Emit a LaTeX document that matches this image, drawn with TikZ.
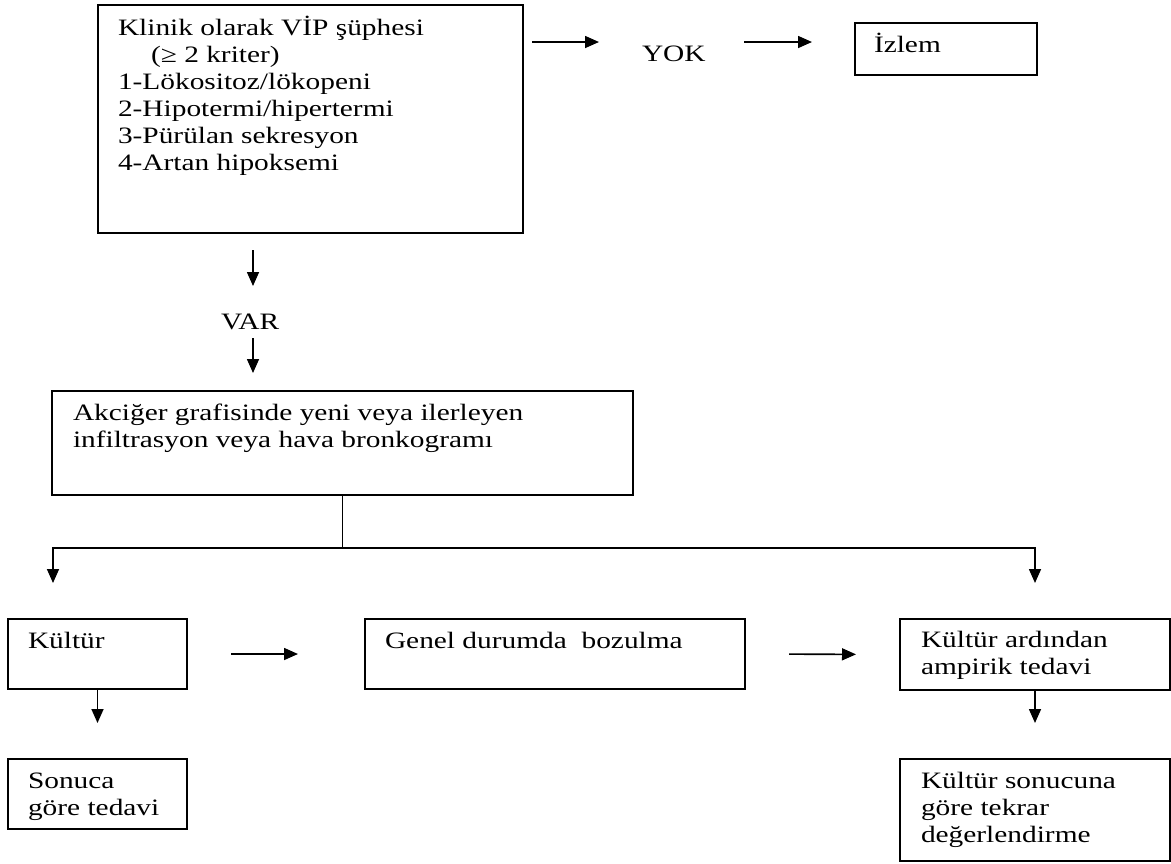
\documentclass[tikz,border=0pt]{standalone}
\usepackage{fontspec}
\setmainfont{Liberation Serif}[FakeStretch=1.25]
\usetikzlibrary{arrows.meta}
\newcommand\txtlines[1]{\vtop{\halign{##\hfil\cr#1\crcr}}}
\begin{document}
\begin{tikzpicture}[x=1pt,y=-1pt,
  box/.style={draw, line width=1.5pt, rectangle, inner sep=0pt, outer sep=0pt, anchor=north west},
  txt/.style={inner sep=0pt, outer sep=0pt, anchor=base west, font=\fontsize{23.5}{27}\selectfont},
  arr/.style={line width=1.6pt, -{Triangle[length=14pt,width=12pt]}},
  ln/.style={line width=1.5pt}]
\useasboundingbox (0,0) rectangle (1171,863);
% boxes
\node[box, minimum width=425pt, minimum height=228pt] (b1) at (98,5) {};
\node[box, minimum width=182pt, minimum height=52pt] (izlem) at (855,23) {};
\node[box, minimum width=581pt, minimum height=104pt] (akc) at (52,391) {};
\node[box, minimum width=179pt, minimum height=70pt] (kultur) at (8,619) {};
\node[box, minimum width=380pt, minimum height=70pt] (genel) at (365,619) {};
\node[box, minimum width=270pt, minimum height=71pt] (kad) at (900,619) {};
\node[box, minimum width=179pt, minimum height=70pt] (sonuca) at (8,759) {};
\node[box, minimum width=270pt, minimum height=102pt] (kson) at (900,759) {};
% texts
\node[txt] (t1) at (118,35) {\txtlines{Klinik olarak VİP şüphesi\cr
\hskip33pt(≥ 2 kriter)\cr
1-Lökositoz/lökopeni\cr
2-Hipotermi/hipertermi\cr
3-Pürülan sekresyon\cr
4-Artan hipoksemi}};
\node[txt] (yok) at (642,61) {YOK};
\node[txt] (tizlem) at (874,52) {İzlem};
\node[txt] (var) at (221,329) {VAR};
\node[txt] (takc) at (73,420) {\txtlines{Akciğer grafisinde yeni veya ilerleyen\cr
infiltrasyon veya hava bronkogramı}};
\node[txt] (tkultur) at (28,648) {Kültür};
\node[txt] (tgenel) at (385,648) {Genel durumda\ \ bozulma};
\node[txt] (tkad) at (921,647) {\txtlines{Kültür ardından\cr ampirik tedavi}};
\node[txt] (tsonuca) at (28,788) {\txtlines{Sonuca\cr göre tedavi}};
\node[txt] (tkson) at (921,788) {\txtlines{Kültür sonucuna\cr göre tekrar\cr değerlendirme}};
% coordinates for free ends
\coordinate (a1s) at (532,42);
\coordinate (a1e) at (599,42);
\coordinate (a2s) at (744,42);
\coordinate (a2e) at (812,42);
\coordinate (d1s) at (253,250);
\coordinate (d1e) at (253,286);
\coordinate (d2s) at (253,338);
\coordinate (d2e) at (253,373);
\coordinate (split) at (akc.south |- 0,548);
\coordinate (dl) at (53,583);
\coordinate (dr) at (1035,583);
% connectors
\draw[arr] (a1s) -- (a1e);
\draw[arr] (a2s) -- (a2e);
\draw[arr] (d1s) -- (d1e);
\draw[arr] (d2s) -- (d2e);
\draw[ln] (akc.south) -- (split);
\draw[arr] (split) -| (dl);
\draw[arr] (split) -| (dr);
\draw[arr, shorten <=44pt, shorten >=67pt] (kultur.east) -- (genel.west);
\draw[arr, shorten <=44pt, shorten >=44pt] (genel.east) -- (kad.west);
\draw[arr, shorten >=36pt] (kultur.south) -- (sonuca.north);
\draw[arr, shorten >=36pt] (kad.south) -- (kson.north);
\end{tikzpicture}
\end{document}
